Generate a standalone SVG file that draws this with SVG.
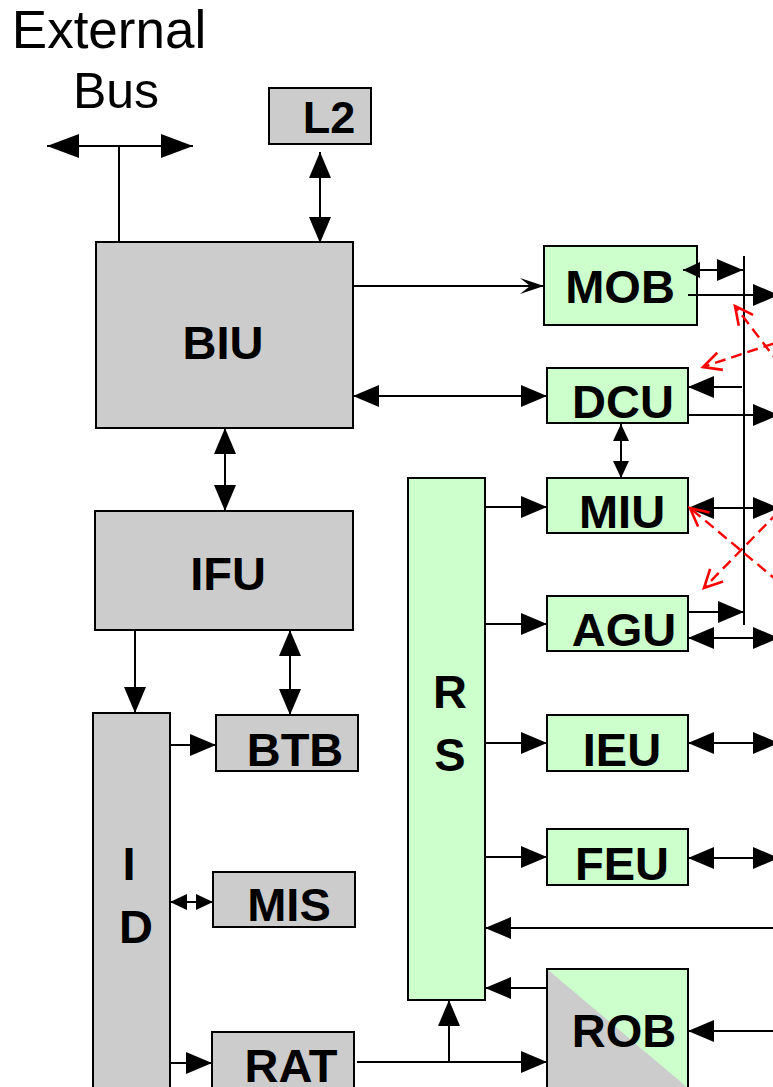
<svg xmlns="http://www.w3.org/2000/svg" width="773" height="1087" viewBox="0 0 773 1087">
<style>
.g{fill:#cccccc;stroke:#000;stroke-width:2}
.gr{fill:#ccffcc;stroke:#000;stroke-width:2}
.lb{font-family:"Liberation Sans",Arial,sans-serif;font-weight:bold;font-size:47px;fill:#000;text-anchor:middle}
.tt{font-family:"Liberation Sans",Arial,sans-serif;font-size:53px;fill:#000;text-anchor:middle}
.c line,.c path{stroke:#000;stroke-width:2;fill:none}
.c .r{stroke:#ff0000;stroke-width:2.4;stroke-dasharray:11 6}
</style>
<defs>
<marker id="ah" markerUnits="userSpaceOnUse" markerWidth="28" markerHeight="26" viewBox="0 -13 28 26" refX="26" refY="0" orient="auto-start-reverse"><path d="M0,-11 L26,0 L0,11 z" fill="#000"/></marker>
<marker id="ab" markerUnits="userSpaceOnUse" markerWidth="34" markerHeight="28" viewBox="0 -14 34 28" refX="32" refY="0" orient="auto-start-reverse"><path d="M0,-12 L32,0 L0,12 z" fill="#000"/></marker>
<marker id="as" markerUnits="userSpaceOnUse" markerWidth="20" markerHeight="20" viewBox="0 -10 20 20" refX="17" refY="0" orient="auto-start-reverse"><path d="M0,-8 L17,0 L0,8 z" fill="#000"/></marker>
<marker id="st" markerUnits="userSpaceOnUse" markerWidth="26" markerHeight="20" viewBox="0 -10 26 20" refX="24" refY="0" orient="auto"><path d="M0,-8 L24,0 L0,8 L10,0 z" fill="#000"/></marker>
<marker id="rc" markerUnits="userSpaceOnUse" markerWidth="24" markerHeight="24" viewBox="-2 -12 24 24" refX="18" refY="0" orient="auto"><path d="M0,-9 L18,0 L0,9" fill="none" stroke="#ff0000" stroke-width="2.6"/></marker>
</defs>

<text class="tt" x="109" y="48">External</text>
<text class="tt" x="116" y="108" style="font-size:50px">Bus</text>

<g id="L2"><rect class="g" x="269" y="88" width="102" height="56"/><text class="lb" x="329" y="133" style="font-size:45px">L2</text></g>
<g id="BIU"><rect class="g" x="96" y="242" width="257" height="186"/><text class="lb" x="223" y="359">BIU</text></g>
<g id="IFU"><rect class="g" x="95" y="511" width="258" height="119"/><text class="lb" x="228" y="590">IFU</text></g>
<g id="ID"><rect class="g" x="93" y="713" width="77" height="390"/><text class="lb" x="129" y="880">I</text><text class="lb" x="136" y="943">D</text></g>
<g id="BTB"><rect class="g" x="216" y="715" width="142" height="56"/><text class="lb" x="295" y="766">BTB</text></g>
<g id="MIS"><rect class="g" x="213" y="872" width="142" height="55"/><text class="lb" x="289" y="921">MIS</text></g>
<g id="RAT"><rect class="g" x="212" y="1032" width="142" height="70"/><text class="lb" x="291" y="1082">RAT</text></g>
<g id="RS"><rect class="gr" x="408" y="478" width="77" height="522"/><text class="lb" x="450" y="708">R</text><text class="lb" x="450" y="771">S</text></g>
<g id="MOB"><rect class="gr" x="544" y="246" width="153" height="79"/><text class="lb" x="620" y="303">MOB</text></g>
<g id="DCU"><rect class="gr" x="547" y="368" width="141" height="55"/><text class="lb" x="623" y="418">DCU</text></g>
<g id="MIU"><rect class="gr" x="547" y="478" width="141" height="55"/><text class="lb" x="622" y="528">MIU</text></g>
<g id="AGU"><rect class="gr" x="547" y="596" width="141" height="55"/><text class="lb" x="624" y="646">AGU</text></g>
<g id="IEU"><rect class="gr" x="547" y="715" width="141" height="56"/><text class="lb" x="622" y="766">IEU</text></g>
<g id="FEU"><rect class="gr" x="547" y="829" width="141" height="56"/><text class="lb" x="622" y="880">FEU</text></g>
<g id="ROB"><rect x="547" y="969" width="141" height="119" fill="#ccffcc"/><polygon points="547,969 688,1088 547,1088" fill="#cccccc"/><rect x="547" y="969" width="141" height="119" fill="none" stroke="#000" stroke-width="2"/><text class="lb" x="624" y="1047">ROB</text></g>

<g id="connectors" class="c">
<line x1="47" y1="146" x2="193" y2="146" marker-start="url(#ab)" marker-end="url(#ab)"/>
<line x1="119" y1="146" x2="119" y2="242"/>
<line x1="320" y1="152" x2="320" y2="243" marker-start="url(#ah)" marker-end="url(#ah)"/>
<line x1="353" y1="286" x2="544" y2="286" marker-end="url(#st)"/>
<line x1="353" y1="396" x2="547" y2="396" marker-start="url(#ah)" marker-end="url(#ah)"/>
<line x1="225" y1="428" x2="225" y2="511" marker-start="url(#ah)" marker-end="url(#ah)"/>
<line x1="135" y1="630" x2="135" y2="713" marker-end="url(#ah)"/>
<line x1="290" y1="630" x2="290" y2="715" marker-start="url(#ah)" marker-end="url(#ah)"/>
<line x1="170" y1="745" x2="216" y2="745" marker-end="url(#ah)"/>
<line x1="170" y1="902" x2="213" y2="902" marker-start="url(#as)" marker-end="url(#as)"/>
<line x1="170" y1="1063" x2="212" y2="1063" marker-end="url(#ah)"/>
<line x1="357" y1="1062" x2="547" y2="1062" marker-end="url(#ah)"/>
<line x1="449" y1="1062" x2="449" y2="1000" marker-end="url(#ah)"/>
<line x1="485" y1="507" x2="547" y2="507" marker-end="url(#ah)"/>
<line x1="485" y1="624" x2="547" y2="624" marker-end="url(#ah)"/>
<line x1="485" y1="743" x2="547" y2="743" marker-end="url(#ah)"/>
<line x1="485" y1="857" x2="547" y2="857" marker-end="url(#ah)"/>
<line x1="775" y1="928" x2="485" y2="928" marker-end="url(#ah)"/>
<line x1="547" y1="988" x2="485" y2="988" marker-end="url(#ah)"/>
<line x1="775" y1="1031" x2="688" y2="1031" marker-end="url(#ah)"/>
<line x1="683" y1="270" x2="743" y2="270" marker-start="url(#as)" marker-end="url(#ah)"/>
<line x1="688" y1="295" x2="779" y2="295" marker-end="url(#ah)"/>
<line x1="744" y1="256" x2="744" y2="625"/>
<line x1="742" y1="387" x2="688" y2="387" marker-end="url(#ah)"/>
<line x1="688" y1="415" x2="779" y2="415" marker-end="url(#ah)"/>
<line x1="621" y1="424" x2="621" y2="478" marker-start="url(#as)" marker-end="url(#as)"/>
<line x1="688" y1="508" x2="779" y2="508" marker-start="url(#ah)" marker-end="url(#ah)"/>
<line x1="688" y1="612" x2="744" y2="612" marker-end="url(#ah)"/>
<line x1="688" y1="638" x2="779" y2="638" marker-start="url(#ah)" marker-end="url(#ah)"/>
<line x1="688" y1="743" x2="779" y2="743" marker-start="url(#ah)" marker-end="url(#ah)"/>
<line x1="688" y1="858" x2="779" y2="858" marker-start="url(#ah)" marker-end="url(#ah)"/>
<line class="r" x1="792" y1="593" x2="690" y2="508" marker-end="url(#rc)"/>
<line class="r" x1="790" y1="500" x2="704" y2="588" marker-end="url(#rc)"/>
<line class="r" x1="790" y1="378" x2="735" y2="306" marker-end="url(#rc)"/>
<line class="r" x1="790" y1="338" x2="703" y2="367" marker-end="url(#rc)"/>
</g>
</svg>
